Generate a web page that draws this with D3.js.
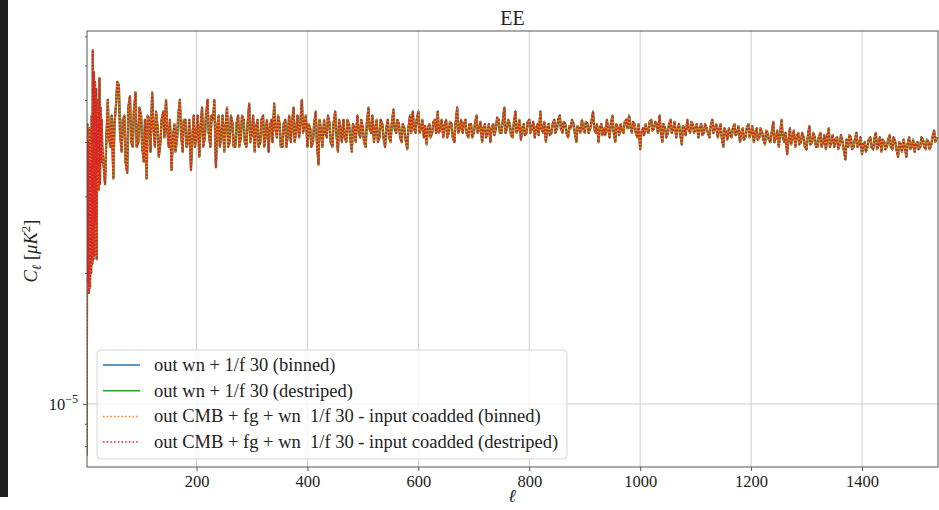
<!DOCTYPE html>
<html>
<head>
<meta charset="utf-8">
<script src="https://cdn.jsdelivr.net/npm/d3@7"></script>
<style>
  body { margin: 0; background: #fff; }
  svg text { font-family: "Liberation Serif", "DejaVu Serif", serif; fill: #222; }
</style>
</head>
<body>
<script>
// ---------------------------------- data ----------------------------------
// C_ell values are in units of 1e-5 muK^2
var ellLow = [2, 3, 4, 5, 6, 7, 8, 9, 10, 11, 12, 13, 14, 15, 16, 17, 18, 19, 20,
  21, 22, 23, 24, 25, 26, 27, 28, 29, 30];
var clLow = [0.76, 4.4, 1.9, 4.0, 1.8, 4.3, 1.85, 3.6, 2.0, 4.6, 2.1, 6.5, 2.15, 5.8, 2.2,
  5.5, 2.6, 5.3, 2.15, 4.6, 3.4, 5.0, 3.1, 5.6, 3.2, 4.8, 3.6, 4.5, 3.9];

// ell = 35, 40, ... 1535
var ellHigh = d3.range(35, 1536, 5);
var clHigh = [
  // 35 - 130
  3.2, 5.0, 3.9, 3.3, 4.9, 5.4, 3.8, 4.6, 3.4, 5.1, 3.9, 5.2, 4.0, 4.6, 3.6, 3.3, 4.5, 5.2, 3.9, 4.3,
  // 135 - 230
  4.0, 4.7, 5.0, 3.9, 3.45, 4.4, 4.1, 5.0, 3.8, 4.5, 4.0, 3.45, 4.6, 4.2, 3.7, 4.8, 4.1, 5.0, 3.9, 4.5,
  // 235 - 330
  3.5, 4.6, 4.2, 3.8, 4.8, 4.0, 4.4, 3.9, 4.6, 4.1, 4.5, 3.9, 4.9, 4.2, 3.8, 4.5, 4.0, 4.6, 4.2, 3.8,
  // 335 - 430
  4.5, 4.9, 4.1, 4.4, 3.9, 4.5, 4.2, 4.0, 4.8, 4.3, 4.1, 5.0, 4.4, 3.9, 4.3, 4.0, 4.7, 3.55, 4.2, 4.5,
  // 435 - 530
  4.1, 4.4, 3.9, 4.7, 3.8, 4.3, 4.5, 4.0, 4.4, 3.8, 4.3, 4.6, 4.1, 4.3, 3.9, 4.8, 4.2, 4.0, 4.5, 4.1,
  // 535 - 630
  4.4, 3.9, 4.5, 4.0, 4.75, 4.2, 4.4, 4.0, 4.3, 3.85, 4.6, 4.7, 4.2, 4.7, 4.3, 4.1, 3.95, 4.4, 4.2, 4.5,
  // 635 - 730
  4.7, 4.3, 4.1, 4.5, 4.2, 4.4, 4.0, 4.8, 4.3, 4.2, 4.5, 4.1, 4.4, 4.2, 4.6, 4.3, 4.0, 4.4, 4.2, 4.0,
  // 735 - 830
  4.4, 4.3, 4.5, 4.2, 4.8, 4.3, 4.4, 4.1, 4.7, 4.3, 4.05, 4.4, 4.2, 4.5, 4.3, 4.1, 4.4, 4.7, 4.2, 4.0,
  // 835 - 930
  4.4, 4.2, 4.5, 4.3, 4.6, 4.2, 4.4, 4.1, 4.3, 4.4, 4.0, 4.3, 4.5, 4.2, 4.4, 4.3, 4.7, 4.2, 4.0, 4.4,
  // 935 - 1030
  4.3, 4.5, 4.1, 4.6, 4.0, 4.3, 4.4, 4.2, 4.5, 4.6, 4.2, 4.4, 4.1, 3.85, 4.3, 4.4, 4.2, 4.5, 4.3, 4.4,
  // 1035 - 1130
  4.6, 4.0, 4.3, 4.2, 4.5, 4.3, 4.1, 4.4, 3.95, 4.3, 4.5, 4.2, 4.4, 4.3, 4.1, 4.4, 4.2, 4.3, 4.1, 4.5,
  // 1135 - 1230
  4.3, 4.1, 4.4, 3.9, 4.2, 4.3, 4.1, 4.4, 4.2, 4.0, 4.3, 4.1, 4.4, 4.2, 4.0, 4.3, 4.1, 4.2, 3.95, 4.2,
  // 1235 - 1330
  4.0, 4.45, 4.1, 3.9, 4.5, 4.0, 3.75, 4.3, 4.1, 3.9, 4.2, 4.0, 4.1, 3.85, 4.35, 4.0, 4.1, 3.9, 4.2, 4.0,
  // 1335 - 1430
  3.85, 4.3, 4.0, 3.9, 4.1, 3.95, 4.0, 3.65, 3.9, 4.1, 3.9, 4.2, 3.95, 3.75, 4.0, 3.9, 4.1, 3.85, 4.2, 3.95,
  // 1435 - 1535
  3.8, 4.0, 3.9, 4.15, 3.85, 4.0, 3.7, 3.95, 4.05, 3.7, 4.1, 3.9, 3.8, 4.0, 3.9, 4.05, 3.85, 4.0, 3.95, 4.25, 4.1
];

var ellMid = d3.range(37, 1533, 5);
var clMid = [
  // 37 - 132
  3.9, 4.1, 4.6, 4.4, 5.5, 4.2, 4.5, 3.6, 4.8, 4.0, 4.7, 3.9, 4.8, 3.9, 4.5, 4.6, 3.8, 4.4, 4.7, 3.7,
  // 137 - 232
  4.5, 4.1, 4.3, 4.5, 4.0, 3.8, 4.6, 4.2, 4.5, 3.9, 4.5, 4.0, 3.9, 4.6, 4.3, 3.9, 4.6, 4.2, 4.6, 5.0,
  // 237 - 332
  4.3, 3.9, 4.6, 4.3, 3.9, 4.6, 3.9, 4.4, 3.9, 4.6, 4.0, 4.4, 4.0, 4.6, 4.3, 3.9, 4.5, 3.9, 4.5, 4.3,
  // 337 - 432
  4.0, 4.3, 4.6, 3.9, 4.4, 3.9, 4.6, 4.4, 4.0, 4.6, 4.4, 4.2, 4.6, 4.4, 3.9, 4.4, 4.0, 4.5, 3.9, 4.2,
  // 437 - 532
  4.6, 4.0, 4.4, 4.2, 4.5, 4.0, 4.1, 4.5, 4.1, 4.4, 4.0, 4.3, 4.5, 4.0, 4.4, 4.3, 4.6, 4.3, 4.0, 4.5,
  // 537 - 632
  4.1, 4.3, 4.1, 4.4, 4.3, 4.5, 4.1, 4.4, 4.05, 4.3, 4.2, 4.3, 4.5, 4.2, 4.5, 4.35, 4.3, 4.1, 4.45, 4.2,
  // 637 - 732
  4.2, 4.5, 4.35, 4.1, 4.45, 4.1, 4.4, 4.2, 4.5, 4.4, 4.2, 4.4, 4.1, 4.4, 4.2, 4.45, 4.3, 4.1, 4.4, 4.3,
  // 737 - 832
  4.15, 4.55, 4.2, 4.45, 4.2, 4.5, 4.15, 4.4, 4.2, 4.5, 4.3, 4.15, 4.45, 4.2, 4.45, 4.3, 4.15, 4.3, 4.45, 4.3,
  // 837 - 932
  4.15, 4.4, 4.2, 4.5, 4.3, 4.45, 4.2, 4.35, 4.5, 4.2, 4.35, 4.2, 4.3, 4.45, 4.2, 4.45, 4.3, 4.4, 4.3, 4.15,
  // 937 - 1032
  4.15, 4.3, 4.4, 4.25, 4.4, 4.15, 4.25, 4.45, 4.3, 4.35, 4.45, 4.2, 4.4, 4.2, 4.15, 4.25, 4.45, 4.25, 4.45, 4.2,
  // 1037 - 1132
  4.25, 4.4, 4.1, 4.4, 4.2, 4.45, 4.25, 4.2, 4.35, 4.15, 4.3, 4.45, 4.2, 4.4, 4.3, 4.15, 4.4, 4.2, 4.35, 4.2,
  // 1137 - 1232
  4.4, 4.25, 4.1, 4.3, 4.05, 4.15, 4.3, 4.15, 4.35, 4.2, 4.05, 4.3, 4.1, 4.35, 4.2, 4.05, 4.3, 4.05, 4.25, 4.05,
  // 1237 - 1332
  4.2, 4.0, 4.25, 4.15, 4.1, 4.2, 4.0, 3.95, 4.25, 4.1, 3.95, 4.2, 3.9, 4.1, 3.95, 4.2, 3.9, 4.1, 3.9, 4.15,
  // 1337 - 1432
  4.1, 3.9, 4.15, 4.05, 3.85, 4.15, 3.85, 4.05, 4.15, 3.85, 4.05, 3.9, 4.1, 3.95, 3.8, 4.05, 3.9, 4.05, 3.85, 4.1,
  // 1437 - 1532
  4.05, 3.85, 4.05, 3.9, 4.1, 3.85, 4.0, 3.8, 3.9, 3.95, 3.85, 4.05, 3.95, 3.85, 4.1, 3.9, 4.05, 3.85, 4.1, 4.0
];

var seriesNames = [
  "out wn + 1/f 30 (binned)",
  "out wn + 1/f 30 (destriped)",
  "out CMB + fg + wn  1/f 30 - input coadded (binned)",
  "out CMB + fg + wn  1/f 30 - input coadded (destriped)"
];
var seriesColors = ["#1f77b4", "#2ca02c", "#ff7f0e", "#d62728"];
var seriesDotted = [false, false, true, true];

var xTicks = [200, 400, 600, 800, 1000, 1200, 1400];
var yMajorTicks = [1e-5];
var yMinorTicks = [8e-6, 9e-6, 2e-5, 3e-5, 4e-5, 5e-5, 6e-5, 7e-5];

// ---------------------------------- setup ---------------------------------
var width = 939, height = 510;
var plotLeft = 87, plotRight = 938, plotTop = 31, plotBottom = 467;

var svg = d3.select("body").append("svg")
  .attr("width", width)
  .attr("height", height);

// dark strip of the screenshot on the left edge
svg.append("rect").attr("x", 0).attr("y", 0).attr("width", 8).attr("height", 497)
  .attr("fill", "#1e1e1e");

var x = d3.scaleLinear().domain([2.5, 1537]).range([plotLeft, plotRight]);
var y = d3.scaleLog().domain([7.16e-6, 7.2e-5]).range([plotBottom, plotTop]);

// grid
svg.append("g").selectAll("line").data(xTicks).enter().append("line")
  .attr("x1", d => x(d)).attr("x2", d => x(d))
  .attr("y1", plotTop).attr("y2", plotBottom)
  .attr("stroke", "#cfcfcf").attr("stroke-width", 1);
svg.append("g").selectAll("line").data(yMajorTicks).enter().append("line")
  .attr("x1", plotLeft).attr("x2", plotRight)
  .attr("y1", d => y(d)).attr("y2", d => y(d))
  .attr("stroke", "#cfcfcf").attr("stroke-width", 1);

// data lines
var points = ellLow.map((l, i) => [l, clLow[i]])
  .concat(ellHigh.map((l, i) => [l, clHigh[i]]))
  .concat(ellMid.map((l, i) => [l, clMid[i]]))
  .sort((a, b) => a[0] - b[0]);

var line = d3.line()
  .x(d => x(d[0]))
  .y(d => y(d[1] * 1e-5));

// the four spectra lie on top of each other
var plot = svg.append("g")
  .attr("clip-path", "url(#plotClip)");
svg.append("clipPath").attr("id", "plotClip").append("rect")
  .attr("x", plotLeft).attr("y", plotTop)
  .attr("width", plotRight - plotLeft).attr("height", plotBottom - plotTop);

seriesNames.forEach(function(name, i) {
  plot.append("path")
    .datum(points)
    .attr("d", line)
    .attr("fill", "none")
    .attr("stroke", seriesColors[i])
    .attr("stroke-width", seriesDotted[i] ? 1.8 : 2.2)
    .attr("stroke-linejoin", "round")
    .attr("stroke-dasharray", seriesDotted[i] ? "1.8,1.6" : null)
    .attr("stroke-dashoffset", i === 3 ? 1.7 : 0);
});

// frame
svg.append("rect")
  .attr("x", plotLeft).attr("y", plotTop)
  .attr("width", plotRight - plotLeft).attr("height", plotBottom - plotTop)
  .attr("fill", "none").attr("stroke", "#555").attr("stroke-width", 1);

// axes
var xAxis = svg.append("g")
  .attr("transform", "translate(0," + plotBottom + ")")
  .call(d3.axisBottom(x).tickValues(xTicks).tickSize(4).tickPadding(4).tickFormat(d3.format("d")));
xAxis.select(".domain").remove();
xAxis.selectAll("line").attr("stroke", "#555");
xAxis.selectAll("text").attr("font-size", 16.5).attr("font-family", null).attr("fill", "#222");

var yAxis = svg.append("g")
  .attr("transform", "translate(" + plotLeft + ",0)")
  .call(d3.axisLeft(y).tickValues(yMajorTicks).tickSize(4).tickPadding(5));
yAxis.select(".domain").remove();
yAxis.selectAll("line").attr("stroke", "#555");
yAxis.selectAll("text")
  .attr("font-size", 16.5).attr("font-family", null).attr("fill", "#222")
  .text(null)
  .each(function(d) {
    var t = d3.select(this);
    var e = Math.round(Math.log10(d));
    t.append("tspan").text("10");
    t.append("tspan").attr("dy", -7).attr("font-size", 12).text("\u2212" + Math.abs(e));
  });

var yMinor = svg.append("g")
  .attr("transform", "translate(" + plotLeft + ",0)")
  .call(d3.axisLeft(y).tickValues(yMinorTicks).tickSize(2).tickFormat(""));
yMinor.select(".domain").remove();
yMinor.selectAll("line").attr("stroke", "#555");

// title and labels
svg.append("text").attr("x", (plotLeft + plotRight) / 2).attr("y", 25)
  .attr("text-anchor", "middle").attr("font-size", 20).text("EE");

svg.append("text").attr("x", 512).attr("y", 502)
  .attr("text-anchor", "middle").attr("font-size", 18).attr("font-style", "italic")
  .text("\u2113");

var yl = svg.append("text")
  .attr("transform", "translate(37,251) rotate(-90)")
  .attr("text-anchor", "middle").attr("font-size", 18.5);
yl.append("tspan").attr("font-style", "italic").text("C");
yl.append("tspan").attr("font-style", "italic").attr("font-size", 13).attr("dy", 4).text("\u2113");
yl.append("tspan").attr("dy", -4).text(" [");
yl.append("tspan").attr("font-style", "italic").text("\u03bcK");
yl.append("tspan").attr("font-size", 13).attr("dy", -7).text("2");
yl.append("tspan").attr("dy", 7).text("]");

// legend
var lg = svg.append("g").attr("transform", "translate(97,350)");
lg.append("rect").attr("width", 470).attr("height", 109).attr("rx", 4)
  .attr("fill", "#fff").attr("fill-opacity", 0.8)
  .attr("stroke", "#d6d6d6").attr("stroke-width", 1);
seriesNames.forEach(function(name, i) {
  var yy = 15 + i * 25.7;
  lg.append("line")
    .attr("x1", 6).attr("x2", 43).attr("y1", yy).attr("y2", yy)
    .attr("stroke", seriesColors[i]).attr("stroke-width", 1.5)
    .attr("stroke-dasharray", seriesDotted[i] ? "1.5,2.2" : null);
  lg.append("text").attr("x", 57).attr("y", yy + 6)
    .attr("font-size", 18.5).style("white-space", "pre").text(name);
});
</script>
</body>
</html>
